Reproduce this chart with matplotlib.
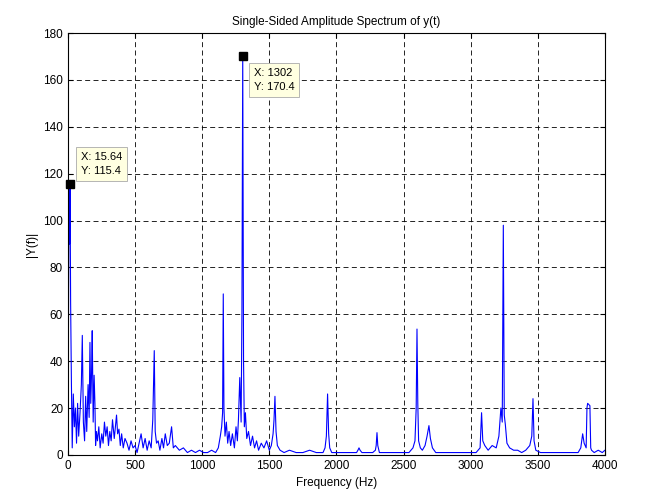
import matplotlib.pyplot as plt

plt.rcParams['font.family'] = ['Liberation Sans', 'DejaVu Sans']

# spectrum (Hz, |Y(f)|)
freq = [0, 4, 8, 12, 15.64, 20, 26, 32, 40, 48, 56, 64, 72, 80, 90, 100, 107, 115, 124, 132,
        140, 150, 158, 164, 170, 176, 181, 188, 195, 201, 206, 212, 220, 230, 240, 252, 262, 272,
        282, 292, 302, 312, 322, 332, 345, 355, 362, 370, 380, 390, 400, 412, 425, 440, 455, 470,
        485, 500, 515, 530, 545, 560, 575, 590, 605, 620, 632, 643, 650, 660, 672, 685, 700, 712,
        725, 740, 755, 772, 785, 800, 830, 860, 890, 920, 950, 980, 1010, 1040, 1070, 1100, 1120,
        1135, 1145, 1152, 1157, 1162, 1170, 1180, 1190, 1200, 1212, 1225, 1240, 1252, 1262, 1270,
        1280, 1290, 1296, 1302, 1308, 1314, 1322, 1332, 1345, 1360, 1375, 1390, 1405, 1420, 1440,
        1460, 1480, 1500, 1515, 1528, 1535, 1542, 1550, 1560, 1580, 1610, 1650, 1700, 1750, 1800,
        1850, 1900, 1915, 1925, 1934, 1942, 1950, 1965, 2000, 2050, 2100, 2150, 2160, 2168, 2176,
        2190, 2230, 2270, 2290, 2296, 2302, 2308, 2320, 2360, 2420, 2480, 2540, 2570, 2585, 2594,
        2600, 2606, 2612, 2625, 2640, 2660, 2675, 2689, 2700, 2715, 2740, 2800, 2860, 2920, 2980,
        3040, 3070, 3081, 3090, 3105, 3130, 3160, 3190, 3210, 3225, 3235, 3243, 3250, 3258, 3270,
        3290, 3320, 3350, 3380, 3410, 3440, 3455, 3464, 3472, 3485, 3520, 3600, 3680, 3760, 3800,
        3820, 3834, 3845, 3860, 3866, 3871, 3888, 3894, 3900, 3920, 3950, 3980, 4000]
amp = [2, 60, 112, 90, 115.4, 65, 30, 3, 26, 12, 20, 5, 22, 8, 18, 30, 51, 14, 6, 25,
       10, 30, 16, 48, 22, 35, 53, 14, 34, 22, 4, 10, 6, 12, 3, 9, 5, 14, 8, 12, 4, 10, 6, 15,
       7, 13, 17, 9, 11, 4, 9, 3, 7, 5, 2, 6, 3, 4, 1, 5, 9, 3, 7, 2, 6, 3, 15, 44.5, 10, 5, 6,
       2, 7, 3, 9, 4, 5, 12, 3, 4, 2, 3, 1, 2, 1, 2, 1, 1, 2, 1, 3, 8, 12, 18, 68.7, 20, 8, 14,
       5, 10, 4, 9, 3, 12, 6, 15, 33, 14, 60, 170.4, 40, 12, 18, 7, 10, 4, 8, 3, 6, 2, 5, 3, 6,
       2, 4, 9, 15, 25, 10, 4, 2, 1, 2, 1, 1, 2, 1, 1, 3, 8, 26, 9, 3, 1, 1, 1, 1, 1, 2, 3, 2, 1,
       1, 1, 2, 4, 9.5, 4, 1, 1, 1, 1, 1, 3, 6, 20, 53.7, 22, 6, 3, 2, 4, 8, 12.5, 7, 3, 1, 1, 1,
       1, 1, 1, 3, 18, 6, 4, 2, 4, 3, 8, 20, 14, 98, 17, 13, 5, 3, 2, 2, 1, 2, 4, 8, 24, 6, 2, 1,
       1, 1, 1, 1, 3, 9, 5, 3, 20, 22, 21, 3, 2, 1, 2, 1, 2]

fig = plt.figure(figsize=(6.47, 5.01), dpi=100)
ax = fig.add_axes([0.105, 0.092, 0.83, 0.842])
ax.plot(freq, amp, color='blue', linewidth=0.8)
ax.set_xlim(0, 4000)
ax.set_ylim(0, 180)
ax.set_xticks(range(0, 4001, 500))
ax.set_yticks(range(0, 181, 20))
ax.grid(True, color='black', linestyle=(0, (6, 4)), linewidth=0.6)
ax.tick_params(direction='in', labelsize=8.5, top=True, right=True)
ax.set_title('Single-Sided Amplitude Spectrum of y(t)', fontsize=8.5)
ax.set_xlabel('Frequency (Hz)', fontsize=8.5)
ax.set_ylabel('|Y(f)|', fontsize=8.5)

# data tips
box = dict(boxstyle='square,pad=0.45', fc='#ffffe1', ec='#aaaaaa', lw=0.6)
for fx, fy, txt, ox, oy in [(15.64, 115.4, 'X: 15.64\nY: 115.4', 8, 6),
                            (1302, 170.4, 'X: 1302\nY: 170.4', 8, -26)]:
    ax.plot([fx], [fy], 's', color='black', markersize=6, clip_on=False, zorder=5)
    ax.annotate(txt, (fx, fy), xytext=(ox, oy), textcoords='offset points',
                fontsize=8, va='bottom', ha='left', bbox=box, linespacing=1.5)

fig.savefig('out.png', dpi=100)
